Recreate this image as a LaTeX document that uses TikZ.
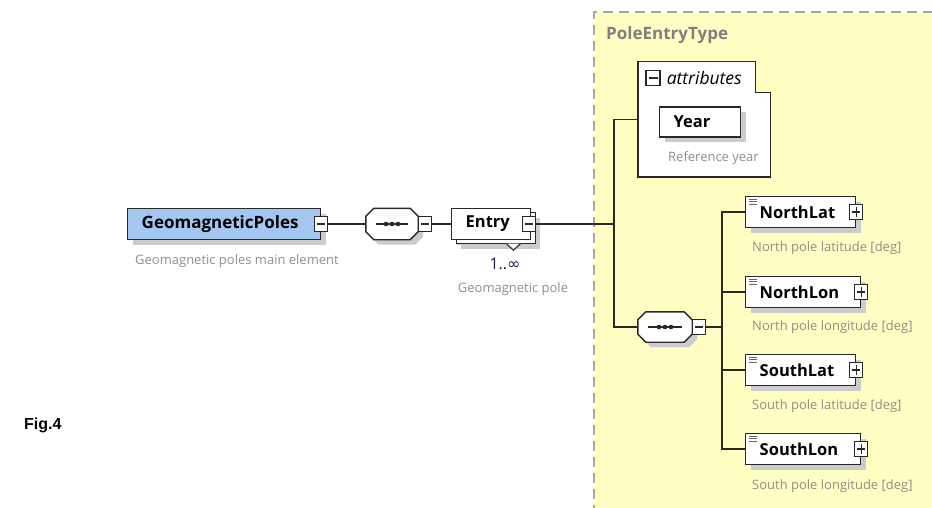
\documentclass[tikz,border=0pt]{standalone}
\usepackage{fontspec}
\setmainfont{Open Sans}
\newfontfamily\figfont{Liberation Sans}
\newfontfamily\symfont{DejaVu Sans}
\usepackage{tikz}
\usetikzlibrary{shadows, positioning}
\definecolor{panelyellow}{RGB}{255,255,196}
\definecolor{panelborder}{RGB}{168,168,168}
\definecolor{rootblue}{RGB}{163,199,240}
\definecolor{desctext}{RGB}{146,140,140}
\definecolor{linegray}{RGB}{40,40,40}
\definecolor{multblue}{RGB}{25,35,70}
\tikzstyle{element} = [rectangle, draw=linegray, fill=white, line width=1.4pt, minimum height=31pt, inner xsep=14pt, inner ysep=0pt, align=left, anchor=west, font=\fontsize{16.5}{19}\selectfont\bfseries, drop shadow={shadow xshift=5pt, shadow yshift=-5pt, fill=black!20, opacity=1}]
\tikzstyle{leaf} = [element, path picture={\foreach \k in {0,2.5,5} \draw[line width=0.9pt, black!60] ([shift={(3,2.5+\k)}]path picture bounding box.north west) -- ++(8,0);}]
\tikzstyle{btn} = [rectangle, draw=linegray, fill=white, line width=1.1pt, minimum width=13pt, minimum height=15pt, inner sep=0pt]
\tikzstyle{minus} = [btn, path picture={\draw[line width=1.1pt, linegray] ([xshift=2.5pt]path picture bounding box.west) -- ([xshift=-2.5pt]path picture bounding box.east);}]
\tikzstyle{plus} = [btn, path picture={\draw[line width=1.1pt, linegray] ([xshift=2.5pt]path picture bounding box.west) -- ([xshift=-2.5pt]path picture bounding box.east); \draw[line width=1.1pt, linegray] ([yshift=-2.5pt]path picture bounding box.north) -- ([yshift=2.5pt]path picture bounding box.south);}]
\tikzstyle{compositor} = [rectangle, minimum width=52pt, minimum height=31pt, inner sep=0pt]
\tikzstyle{octo} = [draw=linegray, fill=white, line width=1.4pt, drop shadow={shadow xshift=5pt, shadow yshift=-5pt, fill=black!20, opacity=1}]
\tikzstyle{desc} = [font=\fontsize{13}{15}\selectfont, text=desctext, inner sep=0pt, anchor=west]
\tikzstyle{conn} = [line width=1.4pt, draw=linegray]
% octagon with the sequence mark, drawn over a compositor node
\newcommand{\seqmark}[1]{%
	\draw[octo] ([xshift=8pt]#1.north west) -- ([xshift=-8pt]#1.north east) -- ([yshift=-8pt]#1.north east) -- ([yshift=8pt]#1.south east) -- ([xshift=-8pt]#1.south east) -- ([xshift=8pt]#1.south west) -- ([yshift=8pt]#1.south west) -- ([yshift=-8pt]#1.north west) -- cycle;
	\draw[line width=1.1pt, linegray] ([xshift=10pt]#1.west) -- ([xshift=-10pt]#1.east);
	\foreach \d in {-6,0,6} \fill[linegray] ([xshift=\d pt]#1.center) circle (2.3pt);}

\begin{document}
\begin{tikzpicture}[x=1pt, y=-1pt]
				\useasboundingbox (0,0) rectangle (932,508);
				\fill[panelyellow] (594,12) rectangle (940,515);
				\draw[panelborder, line width=2pt, dash pattern=on 10pt off 6pt] (594,515) -- (594,12) -- (940,12);
				\node(typename) [anchor=west, inner sep=0pt, text=black!50, font=\fontsize{17}{20}\selectfont\bfseries] at (606,35) {PoleEntryType};
				%----------------------------------------------------%
				\node(geo) [element, fill=rootblue, text width=165pt, font=\fontsize{17}{20}\selectfont\bfseries] at (127,224) {GeomagneticPoles};
				\node(geobtn) [minus] at (geo.east) {};
				\node(geodesc) [desc] at (135,261) {Geomagnetic poles main element};
				\node(seq1) [compositor] at (392,224) {};
				\seqmark{seq1}
				\node(seq1btn) [minus, right=0pt of seq1] {};
				\node(entry) [element, text width=51pt, drop shadow={shadow xshift=9pt, shadow yshift=-9pt, fill=black!20, opacity=1}, copy shadow={shadow xshift=5pt, shadow yshift=-4pt, draw=linegray, line width=1.4pt}] at (451,224) {Entry};
				\draw[fill=white, draw=linegray, line width=1.1pt] ([xshift=-25pt, yshift=-3.5pt]entry.south east) -- ++(7,6.5) -- ++(7,-6.5);
				\node(entrybtn) [minus] at ([xshift=-2pt]entry.east) {};
				\node(mult) [inner sep=0pt, text=multblue, font=\fontsize{16}{19}\selectfont] at (505,264) {1..{\symfont ∞}};
				\node(entrydesc) [desc, anchor=center] at (513,289) {Geomagnetic pole};
				\coordinate (trunk) at (614,224);
				
				\draw[conn] (geobtn) -- (seq1);
				\draw[conn] (seq1btn) -- (entry);
				\draw[conn] (entrybtn) -- (trunk);
				
				%----------------------------------------------------%
				\node(attr) [minimum width=132pt, minimum height=115pt, inner sep=0pt] at (704,119.5) {};
				\draw[fill=white, draw=linegray, line width=1.4pt] (attr.north west) -- ([xshift=-15pt]attr.north east) -- ++(0,31) -- ([yshift=-31pt]attr.north east) -- (attr.south east) -- (attr.south west) -- cycle;
				\node(attrbtn) [minus, minimum width=14pt] at (653,78) {};
				\node(attrname) [right=6pt of attrbtn, inner sep=0pt, font=\fontsize{17.5}{20}\selectfont\itshape] {attributes};
				\node(year) [element, text width=53pt, minimum height=30pt] at (659,122) {Year};
				\node(yeardesc) [desc] at (668,158) {Reference year};
				
				\node(seq2) [compositor, minimum width=54pt, minimum height=30pt] at (665,327) {};
				\seqmark{seq2}
				\node(seq2btn) [minus, right=0pt of seq2] {};
				\coordinate (fork) at (722,327);
				
				\draw[conn] (attr.west) -| (trunk) |- (seq2);
				\draw[conn] (seq2btn) -- (fork);
				
				%----------------------------------------------------%
				\node(nlat) [leaf, text width=82pt] at (745,212) {NorthLat};
				\node(nlatbtn) [plus] at (nlat.east) {};
				\node(nlatdesc) [desc] at (752,248) {North pole latitude [deg]};
				\node(nlon) [leaf, text width=87pt] at (745,292) {NorthLon};
				\node(nlonbtn) [plus] at (nlon.east) {};
				\node(nlondesc) [desc] at (752,327) {North pole longitude [deg]};
				\node(slat) [leaf, text width=82pt] at (745,370) {SouthLat};
				\node(slatbtn) [plus] at (slat.east) {};
				\node(slatdesc) [desc] at (752,406) {South pole latitude [deg]};
				\node(slon) [leaf, text width=87pt] at (745,449) {SouthLon};
				\node(slonbtn) [plus] at (slon.east) {};
				\node(slondesc) [desc] at (752,486) {South pole longitude [deg]};
				
				\foreach \n in {nlat,nlon,slat,slon}
					\draw[conn] (fork) |- (\n);
				
				%----------------------------------------------------%
				\node(fig) [anchor=west, inner sep=0pt, font=\figfont\fontsize{16}{19}\selectfont\bfseries] at (24,425) {Fig.4};
\end{tikzpicture}
\end{document}
